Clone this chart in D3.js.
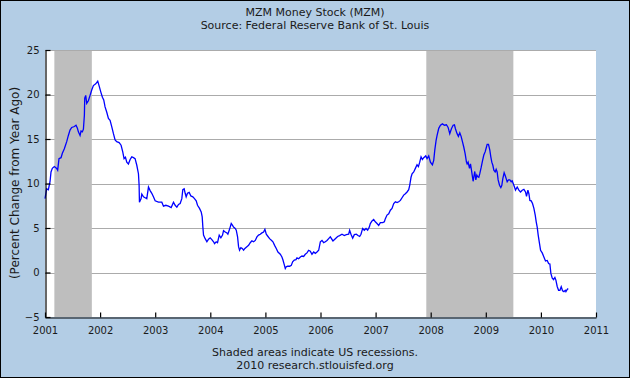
<!DOCTYPE html>
<html>
<head>
<meta charset="utf-8">
<script src="https://cdn.jsdelivr.net/npm/d3@7"></script>
<style>
  html, body { margin: 0; padding: 0; background: #fff; }
  svg { display: block; }
  text { font-family: "DejaVu Sans", Verdana, sans-serif; fill: #1a1a1a; }
</style>
</head>
<body>
<svg id="chart" width="630" height="378"></svg>
<script>
// ---- data ----
const titleText = "MZM Money Stock (MZM)";
const subtitleText = "Source: Federal Reserve Bank of St. Louis";
const yAxisLabel = "(Percent Change from Year Ago)";
const footnote1 = "Shaded areas indicate US recessions.";
const footnote2 = "2010 research.stlouisfed.org";

const xTickYears = [2001, 2002, 2003, 2004, 2005, 2006, 2007, 2008, 2009, 2010, 2011];
const yTickValues = [-5, 0, 5, 10, 15, 20, 25];

const recessionStarts = [2001.17, 2007.92];
const recessionEnds   = [2001.85, 2009.50];

// observation dates as decimal years
const obsYears = [
  2001.000,2001.030,2001.061,2001.091,2001.109,2001.133,2001.170,2001.212,2001.230,2001.254,
  2001.291,2001.315,2001.351,2001.394,2001.424,2001.454,2001.485,2001.533,2001.563,2001.588,
  2001.606,2001.636,2001.654,2001.678,2001.697,2001.715,2001.721,2001.739,2001.757,2001.787,
  2001.818,2001.848,2001.878,2001.921,2001.957,2001.981,2002.012,2002.042,2002.066,2002.090,
  2002.121,2002.151,2002.181,2002.211,2002.242,2002.272,2002.302,2002.345,2002.381,2002.411,
  2002.435,2002.460,2002.484,2002.514,2002.545,2002.575,2002.605,2002.635,2002.666,2002.696,
  2002.708,2002.714,2002.744,2002.757,2002.787,2002.817,2002.847,2002.878,2002.908,2002.938,
  2002.968,2002.999,2003.059,2003.120,2003.150,2003.193,2003.241,2003.290,2003.332,2003.362,
  2003.393,2003.423,
  2003.453,2003.483,2003.501,2003.526,2003.544,2003.562,2003.586,2003.617,2003.647,2003.683,
  2003.713,2003.744,2003.768,2003.804,2003.835,2003.853,2003.865,2003.877,2003.907,2003.938,
  2003.968,2003.998,2004.028,2004.059,2004.077,2004.107,2004.131,2004.162,2004.192,2004.222,
  2004.240,2004.271,2004.301,2004.319,2004.343,2004.361,2004.380,2004.404,2004.422,2004.452,
  2004.471,2004.495,2004.513,2004.531,2004.555,2004.580,2004.604,2004.628,2004.664,2004.695,
  2004.725,2004.755,2004.786,2004.816,2004.846,2004.876,2004.907,2004.937,2004.967,2004.991,
  2005.016,2005.040,2005.076,2005.113,2005.137,2005.167,2005.197,2005.228,2005.270,2005.300,
  2005.319,2005.337,2005.361,2005.379,2005.403,2005.440,2005.470,2005.494,2005.524,2005.555,
  2005.573,2005.603,2005.634,2005.664,2005.694,2005.724,2005.755,2005.785,2005.815,2005.845,
  2005.876,2005.906,2005.936,2005.967,2005.997,2006.027,2006.057,2006.088,2006.118,2006.148,
  2006.178,
  2006.226,2006.269,2006.311,2006.347,2006.390,2006.432,2006.468,2006.511,2006.529,2006.553,
  2006.584,2006.614,2006.650,2006.680,2006.711,2006.735,2006.765,2006.795,2006.826,2006.856,
  2006.886,2006.904,2006.935,2006.965,2006.995,2007.026,2007.056,2007.086,2007.129,2007.159,
  2007.177,2007.207,2007.238,2007.268,2007.298,2007.329,2007.359,2007.389,2007.419,2007.450,
  2007.480,2007.510,2007.540,2007.571,2007.601,2007.619,2007.643,2007.662,2007.692,2007.722,
  2007.752,2007.777,2007.801,2007.825,2007.849,2007.874,2007.910,2007.934,2007.964,2007.995,
  2008.031,2008.055,2008.074,2008.098,2008.116,2008.146,2008.177,2008.213,2008.249,2008.285,
  2008.316,2008.346,2008.376,2008.407,2008.431,2008.449,2008.479,2008.503,2008.528,2008.552,
  2008.576,2008.600,2008.625,
  2008.649,2008.661,2008.679,2008.704,2008.722,2008.740,2008.758,2008.770,2008.788,2008.800,
  2008.819,2008.837,2008.855,2008.873,2008.891,2008.916,2008.940,2008.964,2008.988,2009.012,
  2009.025,2009.049,2009.073,2009.091,2009.109,2009.128,2009.146,2009.170,2009.188,2009.206,
  2009.224,2009.249,2009.273,2009.291,2009.309,2009.333,2009.352,2009.370,2009.388,2009.412,
  2009.436,2009.461,2009.479,2009.497,2009.521,2009.539,2009.570,2009.600,2009.630,2009.661,
  2009.691,2009.721,2009.739,2009.764,2009.782,2009.800,2009.824,2009.848,2009.873,2009.897,
  2009.915,2009.933,2009.951,2009.975,2009.994,2010.024,2010.054,2010.084,2010.115,2010.139,
  2010.163,2010.181,2010.206,2010.230,2010.254,2010.272,2010.297,2010.321,2010.345,2010.369,
  2010.393,2010.418,2010.442,2010.454,2010.478,2010.496
];

// MZM, percent change from year ago
const mzmPctChange = [
  8.3,9.4,9.3,10.2,11.3,11.7,11.9,11.7,11.5,12.8,
  12.9,13.4,13.9,14.7,15.4,16.0,16.3,16.4,16.55,16.2,
  15.8,15.4,15.9,15.8,16.1,17.7,19.6,19.9,19.0,19.3,
  19.9,20.5,21.0,21.2,21.5,21.0,20.3,19.7,19.4,18.6,
  18.0,17.3,17.1,16.4,15.6,14.9,14.7,14.6,14.3,13.55,
  12.8,12.95,12.4,12.2,12.7,13.0,12.9,12.8,12.05,11.1,
  9.8,7.9,8.3,8.8,8.5,8.4,8.3,9.6,9.2,8.9,
  8.5,8.05,7.9,7.9,7.45,7.55,7.45,7.3,7.9,7.55,
  7.35,7.65,
  7.75,8.3,9.3,9.4,8.9,8.5,8.9,9.0,8.6,8.5,
  8.3,8.05,7.55,7.2,6.8,6.25,5.1,4.2,3.8,3.45,
  3.75,3.9,3.7,3.45,3.25,3.45,3.35,4.2,3.9,4.2,
  4.7,4.55,4.45,4.3,4.75,5.1,5.5,5.3,5.1,4.95,
  4.75,4.0,2.9,2.5,2.8,2.7,2.5,2.7,2.9,3.05,
  3.35,3.55,3.45,3.6,4.0,4.2,4.3,4.45,4.55,4.85,
  4.3,4.1,3.8,3.6,3.45,3.05,2.7,2.3,2.05,1.75,
  1.4,1.0,0.45,0.65,0.7,0.7,0.8,1.2,1.4,1.45,
  1.65,1.55,1.75,1.85,1.8,2.05,2.2,2.5,2.4,2.05,
  2.3,2.15,2.3,2.5,3.45,3.6,3.35,3.45,3.6,3.8,
  4.0,
  3.55,3.8,4.05,4.15,4.3,4.15,4.25,4.3,4.75,4.3,
  3.85,4.25,4.3,4.15,4.05,4.3,4.95,4.75,4.95,4.75,
  5.1,5.5,5.8,5.95,5.7,5.5,5.3,5.6,5.6,5.7,
  6.05,6.45,6.6,7.0,7.2,7.75,7.95,7.85,7.95,8.1,
  8.4,8.7,8.85,9.05,9.3,9.8,10.7,11.1,11.3,11.7,
  12.1,11.9,12.4,13.0,12.7,12.9,13.1,12.8,13.1,12.4,
  12.1,12.6,13.75,14.85,15.4,16.2,16.55,16.7,16.55,16.6,
  16.3,15.6,16.15,16.55,16.6,16.15,15.6,15.3,15.7,15.3,
  14.7,14.1,13.35,
  12.4,12.2,12.4,11.7,12.2,11.5,10.75,10.25,10.95,11.35,
  10.4,10.95,10.75,10.7,11.1,11.8,12.55,13.2,13.55,14.1,
  14.4,14.4,13.75,13.0,12.4,12.05,11.5,11.3,11.6,11.3,
  10.4,9.8,9.55,9.8,10.55,11.2,10.9,10.55,10.2,10.4,
  10.4,10.2,10.3,10.0,9.6,9.25,9.6,9.25,9.05,9.25,
  9.35,9.05,8.55,9.25,8.85,8.1,8.05,7.75,7.2,6.45,
  5.7,5.1,4.2,3.25,2.5,2.2,1.75,1.3,1.35,1.0,
  0.95,-0.1,-0.65,-0.8,-0.55,-0.85,-1.6,-2.0,-2.0,-1.6,
  -2.05,-2.15,-2.0,-2.15,-1.9,-1.8
];

// ---- drawing ----
const W = 630, H = 378;
const plot = { left: 45, right: 596, top: 50, bottom: 317 };

const svg = d3.select("#chart");

svg.append("rect")
  .attr("x", 0.5).attr("y", 0.5).attr("width", W - 1).attr("height", H - 1)
  .attr("fill", "#B3CDE5").attr("stroke", "#000").attr("stroke-width", 1);

const x = d3.scaleLinear().domain([2001, 2011]).range([plot.left, plot.right]);
const y = d3.scaleLinear().domain([-5, 25]).range([plot.bottom, plot.top]);

// plot background
svg.append("rect")
  .attr("x", plot.left).attr("y", plot.top)
  .attr("width", plot.right - plot.left).attr("height", plot.bottom - plot.top)
  .attr("fill", "#fff");

// gridlines
svg.append("g").selectAll("line")
  .data(yTickValues.filter(v => v > -5))
  .join("line")
  .attr("x1", plot.left).attr("x2", plot.right)
  .attr("y1", d => Math.round(y(d)) + 0.5).attr("y2", d => Math.round(y(d)) + 0.5)
  .attr("stroke", "#ABABAB").attr("stroke-width", 1.2)
  .attr("shape-rendering", "crispEdges");

// recession shading
svg.append("g").selectAll("rect")
  .data(recessionStarts.map((s, i) => [s, recessionEnds[i]]))
  .join("rect")
  .attr("x", d => x(d[0])).attr("width", d => x(d[1]) - x(d[0]))
  .attr("y", plot.top + 1).attr("height", plot.bottom - plot.top - 1)
  .attr("fill", "#BEBEBE");

// data line
const pts = obsYears.map((t, i) => [t, mzmPctChange[i]]);
svg.append("path")
  .datum(pts)
  .attr("fill", "none")
  .attr("stroke", "#0000FF")
  .attr("stroke-width", 1.3)
  .attr("stroke-linejoin", "miter")
  .attr("d", d3.line().x(d => x(d[0])).y(d => y(d[1])));

// axes
const yAxis = d3.axisLeft(y).tickValues(yTickValues).tickFormat(d3.format("d"))
  .tickSizeInner(-5).tickSizeOuter(0).tickPadding(6);
const gy = svg.append("g").attr("transform", `translate(${plot.left + 0.5},0)`).call(yAxis);

const xAxis = d3.axisBottom(x).tickValues(xTickYears).tickFormat(d3.format("d"))
  .tickSizeInner(-5).tickSizeOuter(0).tickPadding(9);
const gx = svg.append("g").attr("transform", `translate(0,${plot.bottom + 0.5})`).call(xAxis);

[gy, gx].forEach(g => {
  g.selectAll("path.domain").attr("stroke", "#000").attr("stroke-width", 1.2);
  g.selectAll(".tick line").attr("stroke", "#000").attr("stroke-width", 1.2);
  g.selectAll(".tick text").attr("font-family", "DejaVu Sans, Verdana, sans-serif")
    .attr("font-size", 10).attr("fill", "#1a1a1a");
});

// titles
svg.append("text").attr("x", W / 2).attr("y", 16).attr("text-anchor", "middle")
  .attr("font-size", 11).text(titleText);
svg.append("text").attr("x", W / 2).attr("y", 29).attr("text-anchor", "middle")
  .attr("font-size", 11).text(subtitleText);

svg.append("text")
  .attr("transform", `translate(19,183) rotate(-90)`)
  .attr("text-anchor", "middle")
  .attr("font-size", 12).text(yAxisLabel);

svg.append("text").attr("x", W / 2).attr("y", 356).attr("text-anchor", "middle")
  .attr("font-size", 11).text(footnote1);
svg.append("text").attr("x", W / 2).attr("y", 369).attr("text-anchor", "middle")
  .attr("font-size", 11).text(footnote2);
</script>
</body>
</html>
